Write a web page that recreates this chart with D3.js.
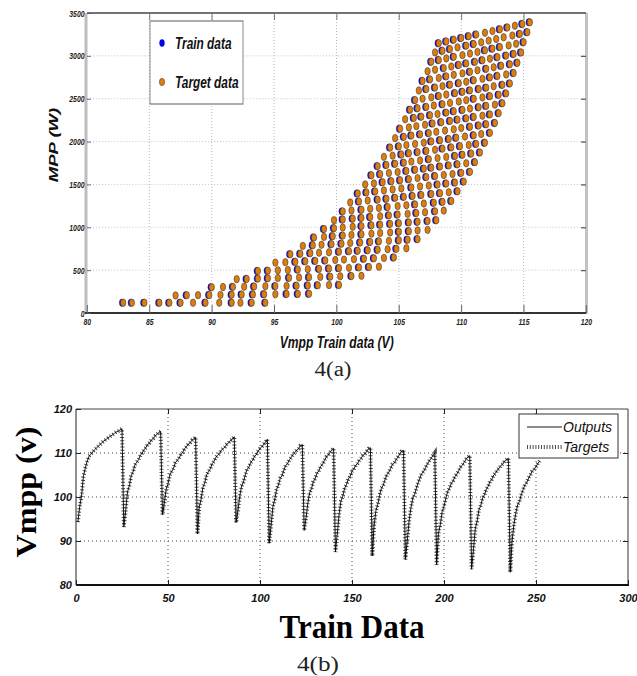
<!DOCTYPE html>
<html><head><meta charset="utf-8">
<script src="https://cdn.jsdelivr.net/npm/d3@7"></script>
<style>
html,body{margin:0;padding:0;background:#fff;}
svg{display:block;}
</style></head>
<body>
<svg id="chart" width="637" height="676"></svg>
<script>
// ---------- DATA ----------
// Scatter lattice: 30 irradiance levels (rows) x 13 temperature curves (columns, coldest -> hottest)
const levelVmpp = [
 [94.3, 93.2, 92.3, 91.6, 90.6, 89.5, 88.5, 87.5, 86.6, 85.8, 84.6, 83.6, 82.9],
 [97.8, 96.9, 96.0, 95.1, 94.2, 93.3, 92.4, 91.6, 90.7, 89.8, 88.9, 88.0, 87.1],
 [100.2, 99.4, 98.5, 97.7, 96.8, 96.0, 95.1, 94.3, 93.4, 92.6, 91.7, 90.9, 90.0],
 [102.0, 101.2, 100.3, 99.5, 98.7, 97.8, 97.0, 96.2, 95.3, 94.5, 93.7, 92.8, 92.0],
 [103.4, 102.6, 101.8, 101.0, 100.2, 99.4, 98.6, 97.7, 96.9, 96.1, 95.3, 94.5, 93.7],
 [104.6, 103.8, 103.0, 102.2, 101.4, 100.6, 99.9, 99.1, 98.3, 97.5, 96.7, 95.9, 95.1],
 [105.6, 104.8, 104.1, 103.3, 102.5, 101.7, 101.0, 100.2, 99.4, 98.6, 97.9, 97.1, 96.3],
 [106.5, 105.7, 105.0, 104.2, 103.4, 102.7, 101.9, 101.1, 100.4, 99.6, 98.8, 98.1, 97.3],
 [107.3, 106.5, 105.8, 105.0, 104.3, 103.5, 102.8, 102.0, 101.2, 100.5, 99.7, 99.0, 98.2],
 [108.0, 107.3, 106.5, 105.8, 105.0, 104.3, 103.5, 102.8, 102.0, 101.3, 100.5, 99.8, 99.0],
 [108.6, 107.9, 107.1, 106.4, 105.7, 104.9, 104.2, 103.5, 102.7, 102.0, 101.3, 100.5, 99.8],
 [109.2, 108.5, 107.8, 107.0, 106.3, 105.6, 104.9, 104.1, 103.4, 102.7, 102.0, 101.2, 100.5],
 [109.7, 109.0, 108.3, 107.6, 106.8, 106.1, 105.4, 104.7, 104.0, 103.3, 102.5, 101.8, 101.1],
 [110.2, 109.5, 108.8, 108.1, 107.4, 106.7, 106.0, 105.2, 104.5, 103.8, 103.1, 102.4, 101.7],
 [110.7, 110.0, 109.3, 108.6, 107.9, 107.2, 106.5, 105.8, 105.1, 104.4, 103.7, 103.0, 102.3],
 [111.1, 110.4, 109.7, 109.0, 108.3, 107.6, 107.0, 106.3, 105.6, 104.9, 104.2, 103.5, 102.8],
 [111.5, 110.8, 110.1, 109.5, 108.8, 108.1, 107.4, 106.7, 106.0, 105.4, 104.7, 104.0, 103.3],
 [111.9, 111.2, 110.6, 109.9, 109.2, 108.5, 107.9, 107.2, 106.5, 105.8, 105.2, 104.5, 103.8],
 [112.3, 111.6, 111.0, 110.3, 109.6, 109.0, 108.3, 107.6, 107.0, 106.3, 105.6, 105.0, 104.3],
 [112.7, 112.0, 111.4, 110.7, 110.0, 109.4, 108.7, 108.0, 107.4, 106.7, 106.0, 105.4, 104.7],
 [113.0, 112.3, 111.7, 111.0, 110.4, 109.7, 109.1, 108.4, 107.7, 107.1, 106.4, 105.8, 105.1],
 [113.3, 112.7, 112.0, 111.4, 110.7, 110.1, 109.4, 108.8, 108.1, 107.5, 106.8, 106.2, 105.5],
 [113.6, 113.0, 112.3, 111.7, 111.0, 110.4, 109.8, 109.1, 108.5, 107.8, 107.2, 106.5, 105.9],
 [113.9, 113.3, 112.6, 112.0, 111.4, 110.7, 110.1, 109.5, 108.8, 108.2, 107.6, 106.9, 106.3],
 [114.2, 113.6, 112.9, 112.3, 111.7, 111.0, 110.4, 109.8, 109.1, 108.5, 107.9, 107.2, 106.6],
 [114.5, 113.9, 113.2, 112.6, 112.0, 111.3, 110.7, 110.1, 109.4, 108.8, 108.2, 107.5, 106.9],
 [114.8, 114.2, 113.6, 112.9, 112.3, 111.7, 111.1, 110.4, 109.8, 109.2, 108.6, 107.9, 107.3],
 [115.0, 114.4, 113.8, 113.1, 112.5, 111.9, 111.3, 110.7, 110.1, 109.4, 108.8, 108.2, 107.6],
 [115.3, 114.7, 114.1, 113.4, 112.8, 112.2, 111.6, 111.0, 110.4, 109.7, 109.1, 108.5, 107.9],
 [115.5, 114.9, 114.3, 113.7, 113.1, 112.5, 111.9, 111.2, 110.6, 110.0, 109.4, 108.8, 108.2]
];
const levelMpp = [
 [120, 120, 120, 120, 120, 120, 120, 120, 120, 120, 120, 120, 120],
 [225, 223, 222, 220, 218, 217, 215, 213, 212, 210, 208, 207, 205],
 [328, 326, 323, 321, 319, 316, 314, 312, 309, 307, 305, 303, 300],
 [434, 431, 428, 424, 421, 418, 415, 411, 408, 405, 402, 398, 395],
 [540, 536, 532, 527, 523, 519, 515, 511, 507, 502, 498, 494, 490],
 [648, 643, 638, 633, 628, 623, 618, 613, 608, 603, 598, 593, 588],
 [755, 749, 744, 738, 732, 726, 721, 715, 709, 703, 698, 692, 686],
 [862, 855, 849, 842, 836, 829, 823, 816, 809, 803, 796, 790, 783],
 [970, 963, 955, 948, 940, 933, 926, 918, 911, 903, 896, 888, 881],
 [1082, 1074, 1065, 1057, 1048, 1040, 1031, 1023, 1014, 1006, 997, 989, 980],
 [1195, 1186, 1176, 1167, 1157, 1148, 1139, 1129, 1120, 1110, 1101, 1091, 1082],
 [1307, 1297, 1287, 1277, 1267, 1257, 1247, 1236, 1226, 1216, 1206, 1196, 1186],
 [1420, 1409, 1398, 1388, 1377, 1366, 1355, 1344, 1333, 1323, 1312, 1301, 1290],
 [1533, 1522, 1510, 1499, 1487, 1476, 1464, 1453, 1441, 1430, 1418, 1407, 1395],
 [1647, 1635, 1622, 1610, 1598, 1586, 1574, 1561, 1549, 1537, 1525, 1512, 1500],
 [1760, 1747, 1735, 1722, 1709, 1696, 1684, 1671, 1658, 1645, 1633, 1620, 1607],
 [1873, 1860, 1847, 1833, 1820, 1807, 1794, 1780, 1767, 1754, 1741, 1727, 1714],
 [1987, 1973, 1960, 1946, 1932, 1918, 1905, 1891, 1877, 1863, 1850, 1836, 1822],
 [2102, 2088, 2073, 2059, 2045, 2030, 2016, 2002, 1987, 1973, 1959, 1944, 1930],
 [2217, 2202, 2188, 2173, 2158, 2143, 2129, 2114, 2099, 2084, 2070, 2055, 2040],
 [2332, 2317, 2302, 2287, 2271, 2256, 2241, 2226, 2211, 2196, 2180, 2165, 2150],
 [2447, 2431, 2416, 2400, 2385, 2369, 2354, 2338, 2322, 2307, 2291, 2276, 2260],
 [2562, 2546, 2530, 2515, 2499, 2483, 2467, 2451, 2435, 2420, 2404, 2388, 2372],
 [2678, 2662, 2646, 2629, 2613, 2597, 2581, 2565, 2549, 2532, 2516, 2500, 2484],
 [2800, 2783, 2766, 2749, 2732, 2715, 2698, 2681, 2664, 2647, 2630, 2613, 2596],
 [2920, 2902, 2885, 2867, 2849, 2832, 2814, 2796, 2779, 2761, 2743, 2726, 2708],
 [3040, 3022, 3003, 2985, 2967, 2948, 2930, 2912, 2893, 2875, 2857, 2838, 2820],
 [3160, 3141, 3122, 3103, 3084, 3065, 3046, 3027, 3008, 2989, 2970, 2951, 2932],
 [3276, 3256, 3237, 3217, 3197, 3178, 3158, 3138, 3119, 3099, 3079, 3060, 3040],
 [3392, 3372, 3351, 3331, 3310, 3290, 3270, 3249, 3229, 3208, 3188, 3168, 3147]
];
// Train subset: for each temperature curve, the irradiance levels used as training samples (in order)
const trainLevels = [
 [0,1,2,5,7,9,11,12,13,14,15,16,17,18,19,20,21,22,23,24,25,26,27,28,29],
 [0,1,3,4,6,7,9,10,11,13,14,16,17,19,20,22,23,25,26,28,29],
 [1,2,4,5,7,8,9,11,12,13,15,16,18,19,21,22,24,25,26],
 [0,2,3,5,6,8,9,10,12,13,15,16,17,19,20,21,23,24,26,27,29],
 [1,2,4,6,7,9,11,12,14,15,17,18,20,22,23,25,27,29],
 [0,1,3,4,6,7,9,10,12,14,15,17,18,20,21,23,24,26,27],
 [1,2,4,6,7,9,10,12,13,15,16,18,20,21,23,25,26],
 [0,1,3,5,6,8,9,11,12,14,15,17,18,20,21,23,24,26,28,29],
 [0,2,4,5,7,9,10,12,14,15,17,19,20,22,24,26,28,29],
 [0,1,3,5,7,8,10,12,14,16,17,19,21,23,25,27,29],
 [0,2,3,5,6,8,10,11,13,14,16,17,19,21,22,24,26,28,29],
 [0,1,3,4,6,7,9,10,12,13,15,16,18,19,21,22,24,25,27,28,29],
 [0,2,4,6,8,9,11,13,15,16,18,20,22,23,25,27,29]
];
const topXTicks = [80, 85, 90, 95, 100, 105, 110, 115, 120];
const topYTicks = [0, 500, 1000, 1500, 2000, 2500, 3000, 3500];
const botXTicks = [0, 50, 100, 150, 200, 250, 300];
const botYTicks = [80, 90, 100, 110, 120];
const topLegendLabels = ["Train data", "Target data"];
const botLegendLabels = ["Outputs", "Targets"];

// ---------- BUILD ----------
const allPts = [];
levelVmpp.forEach((row, j) => row.forEach((v, k) => allPts.push({ v, p: levelMpp[j][k] })));
const trainPts = [];
trainLevels.forEach((lv, k) => lv.forEach(j => trainPts.push({ v: levelVmpp[j][k], p: levelMpp[j][k] })));
const series = trainPts.map((d, i) => ({ i: i + 1, v: d.v }));

const svg = d3.select("#chart");
const SANS = "'Liberation Sans', Arial, Helvetica, sans-serif";
const SERIF = "'Liberation Serif', 'Times New Roman', serif";
const BLUE = "#0000f0", ORANGE = "#de7d0c";

// ===== TOP CHART (horizontally compressed figure) =====
const SX = 0.72;
const T = { left: 87, right: 586, top: 13, bottom: 313 };
const gT = svg.append("g").attr("transform", `scale(${SX},1)`);
const xT = d3.scaleLinear().domain([80, 120]).range([T.left / SX, T.right / SX]);
const yT = d3.scaleLinear().domain([0, 3500]).range([T.bottom, T.top]);

gT.append("g").selectAll("line").data(topXTicks.slice(1, -1)).join("line")
  .attr("x1", d => xT(d)).attr("x2", d => xT(d)).attr("y1", T.top).attr("y2", T.bottom)
  .attr("stroke", "#b4b4b4").attr("stroke-width", 1.3).attr("stroke-dasharray", "1,2");
gT.append("g").selectAll("line").data(topYTicks.slice(1, -1)).join("line")
  .attr("x1", xT(80)).attr("x2", xT(120)).attr("y1", d => yT(d)).attr("y2", d => yT(d))
  .attr("stroke", "#b4b4b4").attr("stroke-width", 0.9).attr("stroke-dasharray", "1.4,2.8");

// scatter
gT.append("g").selectAll("ellipse").data(trainPts).join("ellipse")
  .attr("cx", d => xT(d.v) - 1.7).attr("cy", d => yT(d.p)).attr("rx", 3.7).attr("ry", 3.7)
  .attr("fill", BLUE).attr("stroke", "#22226a").attr("stroke-width", 0.4);
gT.append("g").selectAll("ellipse").data(allPts).join("ellipse")
  .attr("cx", d => xT(d.v)).attr("cy", d => yT(d.p)).attr("rx", 3.7).attr("ry", 3.7)
  .attr("fill", ORANGE).attr("stroke", "#3a3a3a").attr("stroke-width", 0.7);

// frame
gT.append("rect").attr("x", 84.5 / SX).attr("y", T.top).attr("width", 3 / SX).attr("height", T.bottom - T.top).attr("fill", "#bdbdbd");
gT.append("rect").attr("x", 585 / SX).attr("y", T.top).attr("width", 3 / SX).attr("height", T.bottom - T.top + 1).attr("fill", "#c2c2c2");
gT.append("line").attr("x1", xT(80)).attr("x2", xT(120)).attr("y1", T.top).attr("y2", T.top).attr("stroke", "#444").attr("stroke-width", 1.3);
gT.append("line").attr("x1", 85 / SX).attr("x2", xT(120)).attr("y1", T.bottom).attr("y2", T.bottom).attr("stroke", "#333").attr("stroke-width", 2);

function styleAxis(g, size, color) {
  g.select(".domain").remove();
  g.attr("font-family", SANS).attr("font-size", size).attr("font-weight", "bold").attr("font-style", "italic");
  g.selectAll("text").attr("fill", color);
}
const axTB = gT.append("g").attr("transform", `translate(0,${T.bottom})`)
  .call(d3.axisBottom(xT).tickValues(topXTicks).tickSizeInner(-8).tickSizeOuter(0).tickPadding(5.5).tickFormat(d3.format("d")));
styleAxis(axTB, 9.5, "#222");
axTB.selectAll("line").attr("stroke", "#666").attr("stroke-width", 1.4);
const axTT = gT.append("g").attr("transform", `translate(0,${T.top})`)
  .call(d3.axisTop(xT).tickValues(topXTicks.slice(1, -1)).tickSizeInner(-7).tickSizeOuter(0).tickFormat(""));
axTT.select(".domain").remove();
axTT.selectAll("line").attr("stroke", "#777").attr("stroke-width", 1.4);
const axTL = gT.append("g").attr("transform", `translate(${xT(80)},0)`)
  .call(d3.axisLeft(yT).tickValues(topYTicks).tickSizeInner(-4 / SX).tickSizeOuter(0).tickPadding(3.5).tickFormat(d3.format("d")));
styleAxis(axTL, 9.5, "#222");
axTL.selectAll("line").attr("stroke", "#555").attr("stroke-width", 1);
const axTR = gT.append("g").attr("transform", `translate(${xT(120)},0)`)
  .call(d3.axisRight(yT).tickValues(topYTicks.slice(1, -1)).tickSizeInner(-5 / SX).tickSizeOuter(0).tickFormat(""));
axTR.select(".domain").remove();
axTR.selectAll("line").attr("stroke", "#555").attr("stroke-width", 1.2);

// titles
gT.append("text").attr("x", 336.7 / SX).attr("y", 348).attr("text-anchor", "middle")
  .attr("font-family", SANS).attr("font-size", 16.8).attr("font-weight", "bold").attr("font-style", "italic")
  .attr("fill", "#111").text("Vmpp Train data (V)");
gT.append("text").attr("transform", `translate(${53 / SX},145) rotate(-90)`).attr("dy", "0.35em").attr("text-anchor", "middle")
  .attr("font-family", SANS).attr("font-size", 18.5).attr("font-weight", "bold").attr("font-style", "italic")
  .attr("fill", "#111").text("MPP (W)");

// legend
const lgT = gT.append("g");
lgT.append("rect").attr("x", 150 / SX).attr("y", 21).attr("width", 93 / SX).attr("height", 83)
  .attr("fill", "#fff").attr("stroke", "#777").attr("stroke-width", 1.2);
const lgRows = [{ label: topLegendLabels[0], y: 43, fill: BLUE, stroke: "none" }, { label: topLegendLabels[1], y: 82, fill: ORANGE, stroke: "#444" }];
lgT.selectAll("ellipse").data(lgRows).join("ellipse")
  .attr("cx", 162 / SX).attr("cy", d => d.y).attr("rx", 3.7).attr("ry", 3.7)
  .attr("fill", d => d.fill).attr("stroke", d => d.stroke).attr("stroke-width", 0.6);
lgT.selectAll("text").data(lgRows).join("text")
  .attr("x", 175 / SX).attr("y", d => d.y + 6)
  .attr("font-family", SANS).attr("font-size", 16.5).attr("font-weight", "bold").attr("font-style", "italic")
  .attr("fill", "#111").text(d => d.label);

svg.append("text").attr("x", 333).attr("y", 376).attr("text-anchor", "middle")
  .attr("font-family", SERIF).attr("font-size", 20).attr("fill", "#222")
  .attr("textLength", 37).attr("lengthAdjust", "spacingAndGlyphs").text("4(a)");

// ===== BOTTOM CHART =====
const B = { left: 76, right: 628, top: 409, bottom: 585 };
const xB = d3.scaleLinear().domain([0, 300]).range([B.left, B.right]);
const yB = d3.scaleLinear().domain([80, 120]).range([B.bottom, B.top]);
const gB = svg.append("g");

gB.append("g").selectAll("line").data(botXTicks.slice(1, -1)).join("line")
  .attr("x1", d => xB(d)).attr("x2", d => xB(d)).attr("y1", B.top).attr("y2", B.bottom)
  .attr("stroke", "#333").attr("stroke-width", 0.9).attr("stroke-dasharray", "1,3");
gB.append("g").selectAll("line").data(botYTicks.slice(1, -1)).join("line")
  .attr("x1", B.left).attr("x2", B.right).attr("y1", d => yB(d)).attr("y2", d => yB(d))
  .attr("stroke", "#333").attr("stroke-width", 0.9).attr("stroke-dasharray", "1,3");

const line = d3.line().x(d => xB(d.i)).y(d => yB(d.v));
gB.append("path").datum(series).attr("d", line).attr("fill", "none")
  .attr("stroke", "#4a4a4a").attr("stroke-width", 4).attr("stroke-dasharray", "1,2.2");
gB.append("path").datum(series).attr("d", line).attr("fill", "none")
  .attr("stroke", "#000").attr("stroke-width", 0.9);

// frame
gB.append("line").attr("x1", B.left).attr("x2", B.right).attr("y1", B.top).attr("y2", B.top).attr("stroke", "#444").attr("stroke-width", 1);
gB.append("line").attr("x1", B.left).attr("x2", B.left).attr("y1", B.top).attr("y2", B.bottom).attr("stroke", "#222").attr("stroke-width", 1);
gB.append("line").attr("x1", B.right).attr("x2", B.right).attr("y1", B.top).attr("y2", B.bottom).attr("stroke", "#333").attr("stroke-width", 1);
gB.append("line").attr("x1", B.left).attr("x2", B.right + 1).attr("y1", B.bottom).attr("y2", B.bottom).attr("stroke", "#111").attr("stroke-width", 2);

const axBB = gB.append("g").attr("transform", `translate(0,${B.bottom})`)
  .call(d3.axisBottom(xB).tickValues(botXTicks).tickSizeInner(-5).tickSizeOuter(0).tickPadding(9.2).tickFormat(d3.format("d")));
styleAxis(axBB, 11, "#111");
axBB.selectAll("line").attr("stroke", "#222");
const axBT = gB.append("g").attr("transform", `translate(0,${B.top})`)
  .call(d3.axisTop(xB).tickValues(botXTicks.slice(1, -1)).tickSizeInner(-5).tickSizeOuter(0).tickFormat(""));
axBT.select(".domain").remove();
axBT.selectAll("line").attr("stroke", "#222");
const axBL = gB.append("g").attr("transform", `translate(${B.left},0)`)
  .call(d3.axisLeft(yB).tickValues(botYTicks).tickSizeInner(-5).tickSizeOuter(0).tickPadding(4).tickFormat(d3.format("d")));
styleAxis(axBL, 11, "#111");
axBL.selectAll("line").attr("stroke", "#222");
const axBR = gB.append("g").attr("transform", `translate(${B.right},0)`)
  .call(d3.axisRight(yB).tickValues(botYTicks.slice(1, -1)).tickSizeInner(-5).tickSizeOuter(0).tickFormat(""));
axBR.select(".domain").remove();
axBR.selectAll("line").attr("stroke", "#222");

// legend
const lgB = gB.append("g");
lgB.append("rect").attr("x", 519).attr("y", 414).attr("width", 99).attr("height", 44)
  .attr("fill", "#fff").attr("stroke", "#333").attr("stroke-width", 1);
lgB.append("line").attr("x1", 527).attr("x2", 562).attr("y1", 427).attr("y2", 427).attr("stroke", "#000").attr("stroke-width", 0.9);
lgB.append("line").attr("x1", 527).attr("x2", 562).attr("y1", 447).attr("y2", 447)
  .attr("stroke", "#4a4a4a").attr("stroke-width", 4).attr("stroke-dasharray", "1,1.8");
lgB.selectAll("text").data(botLegendLabels).join("text")
  .attr("x", 563).attr("y", (d, i) => 432 + i * 20)
  .attr("font-family", SANS).attr("font-size", 14).attr("font-style", "italic").attr("fill", "#111").text(d => d);

// titles
svg.append("text").attr("transform", "translate(25,492) rotate(-90)").attr("dy", "0.35em").attr("text-anchor", "middle")
  .attr("font-family", SERIF).attr("font-size", 30).attr("font-weight", "bold").attr("fill", "#000")
  .attr("textLength", 131).attr("lengthAdjust", "spacingAndGlyphs").text("Vmpp (v)");
svg.append("text").attr("x", 352).attr("y", 638).attr("text-anchor", "middle")
  .attr("font-family", SERIF).attr("font-size", 33).attr("font-weight", "bold").attr("fill", "#000")
  .attr("textLength", 145).attr("lengthAdjust", "spacingAndGlyphs").text("Train Data");
svg.append("text").attr("x", 318).attr("y", 671).attr("text-anchor", "middle")
  .attr("font-family", SERIF).attr("font-size", 20).attr("fill", "#222")
  .attr("textLength", 42).attr("lengthAdjust", "spacingAndGlyphs").text("4(b)");
</script>
</body></html>
